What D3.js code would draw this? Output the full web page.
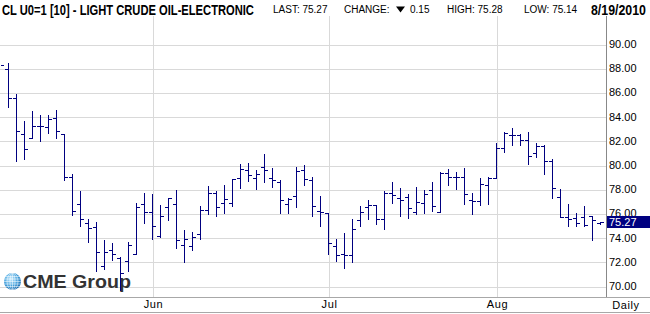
<!DOCTYPE html>
<html>
<head>
<meta charset="utf-8">
<script src="https://cdn.jsdelivr.net/npm/d3@7"></script>
<style>
  body { margin: 0; background: #fff; }
  svg { display: block; font-family: "Liberation Sans", Arial, sans-serif; }
</style>
</head>
<body>
<div id="chart"></div>
<script>
// trading days, 4 May - 19 Aug 2010 (Memorial Day and 5 Jul closed)
const dates = [
  "2010-05-04","2010-05-05","2010-05-06","2010-05-07",
  "2010-05-10","2010-05-11","2010-05-12","2010-05-13","2010-05-14",
  "2010-05-17","2010-05-18","2010-05-19","2010-05-20","2010-05-21",
  "2010-05-24","2010-05-25","2010-05-26","2010-05-27","2010-05-28",
  "2010-06-01","2010-06-02","2010-06-03","2010-06-04",
  "2010-06-07","2010-06-08","2010-06-09","2010-06-10","2010-06-11",
  "2010-06-14","2010-06-15","2010-06-16","2010-06-17","2010-06-18",
  "2010-06-21","2010-06-22","2010-06-23","2010-06-24","2010-06-25",
  "2010-06-28","2010-06-29","2010-06-30",
  "2010-07-01","2010-07-02",
  "2010-07-06","2010-07-07","2010-07-08","2010-07-09",
  "2010-07-12","2010-07-13","2010-07-14","2010-07-15","2010-07-16",
  "2010-07-19","2010-07-20","2010-07-21","2010-07-22","2010-07-23",
  "2010-07-26","2010-07-27","2010-07-28","2010-07-29","2010-07-30",
  "2010-08-02","2010-08-03","2010-08-04","2010-08-05","2010-08-06",
  "2010-08-09","2010-08-10","2010-08-11","2010-08-12","2010-08-13",
  "2010-08-16","2010-08-17","2010-08-18","2010-08-19"
];

const opens = [88.10, 87.91, 85.51, 82.54, 82.21, 83.25, 83.15, 83.85, 82.54, 78.98,
  76.78, 75.18, 74.85, 71.63, 72.98, 72.34, 72.07, 72.62, 76.80, 76.11,
  74.16, 76.50, 76.80, 73.39, 73.28, 74.27, 76.30, 77.69, 76.83, 76.86,
  78.90, 79.59, 78.93, 79.81, 78.90, 78.57, 76.80, 77.41, 79.59, 78.73,
  76.20, 76.00, 73.27, 72.65, 72.56, 75.44, 76.50, 76.69, 75.51, 77.66,
  77.25, 77.36, 76.09, 76.83, 77.91, 76.14, 79.35, 78.98, 78.98, 77.11,
  77.00, 78.33, 78.95, 81.38, 82.52, 82.52, 82.07, 80.96, 81.55, 80.29,
  77.38, 75.73, 75.65, 75.73, 75.79, 75.20];

const highs = [88.50, 88.45, 85.86, 83.61, 84.46, 84.13, 84.10, 84.55, 82.54, 79.23,
  77.85, 75.54, 75.29, 73.78, 73.53, 72.40, 73.64, 76.86, 77.69, 77.63,
  76.67, 77.30, 77.93, 74.63, 74.46, 76.61, 78.25, 77.85, 78.35, 78.88,
  80.07, 80.17, 79.59, 80.91, 79.73, 78.73, 77.25, 79.86, 80.00, 78.98,
  77.41, 76.00, 73.90, 74.35, 75.54, 76.61, 77.11, 76.69, 77.88, 78.60,
  78.07, 77.58, 78.18, 77.91, 78.57, 79.46, 79.67, 79.45, 79.73, 77.71,
  78.92, 79.03, 81.82, 82.72, 83.05, 82.54, 82.73, 81.78, 81.64, 80.47,
  77.99, 76.75, 76.00, 76.64, 75.79, 75.28];

const lows = [87.70, 84.82, 80.36, 80.47, 82.21, 82.01, 82.67, 82.26, 78.74, 75.89,
  74.98, 73.61, 71.26, 71.43, 72.15, 69.65, 71.27, 72.62, 75.18, 73.86,
  74.05, 75.43, 73.17, 71.96, 73.00, 73.91, 75.93, 75.81, 76.00, 76.64,
  78.12, 78.71, 77.99, 78.62, 78.21, 76.00, 76.00, 76.55, 78.35, 75.81,
  74.99, 72.62, 72.07, 71.45, 71.95, 74.99, 75.56, 75.10, 74.74, 76.83,
  75.81, 75.65, 75.92, 76.00, 76.22, 76.12, 78.38, 78.02, 76.78, 75.92,
  76.70, 76.80, 78.92, 81.10, 81.65, 81.62, 80.06, 80.69, 79.23, 77.24,
  75.73, 74.99, 74.99, 74.99, 73.83, 75.14];

const closes = [88.24, 85.51, 82.79, 81.30, 83.20, 83.22, 83.80, 82.78, 78.98, 76.20,
  75.54, 74.79, 72.78, 72.78, 72.62, 71.05, 73.36, 76.50, 76.14, 74.93,
  75.79, 77.25, 73.80, 73.86, 74.02, 76.31, 77.67, 76.57, 77.16, 78.84,
  79.65, 79.17, 79.23, 79.56, 78.73, 77.08, 77.16, 79.48, 78.87, 76.58,
  76.12, 73.53, 72.57, 72.60, 74.71, 76.10, 76.69, 75.51, 77.71, 77.52,
  77.08, 76.42, 76.92, 77.58, 76.58, 79.35, 79.00, 78.98, 77.58, 77.05,
  78.40, 78.96, 81.39, 82.67, 82.52, 82.07, 80.75, 81.57, 80.29, 78.07,
  75.73, 75.51, 75.23, 75.04, 75.42, 75.27];

const yTicks = [70, 72, 74, 76, 78, 80, 82, 84, 86, 88, 90];
const monthTicks = ["2010-06-01", "2010-07-01", "2010-08-02"];
const monthLabels = ["Jun", "Jul", "Aug"];

const title = "CL U0=1 [10] - LIGHT CRUDE OIL-ELECTRONIC";
const lastPrice = 75.27, change = 0.15, dayHigh = 75.28, dayLow = 75.14;
const asOf = "8/19/2010";

const W = 650, H = 314;
const plotTop = 16, plotBottom = 297, plotRight = 606;
const barColor = "#000080";
const gridColor = "#d9d9d9";
const fmt = d3.format('.2f');

const bars = dates.map((d, i) => ({
  date: d, o: opens[i], h: highs[i], l: lows[i], c: closes[i]
}));

const svg = d3.select('#chart')
  .append('svg')
  .attr('width', W)
  .attr('height', H);

const x = d3.scalePoint()
  .domain(dates)
  .range([0.5, 600.5]);

const y = d3.scaleLinear()
  .domain([70, 90])
  .range([286, 44]);

const py = v => Math.round(y(v)) + 0.5;

// squeeze a text horizontally so it spans `width` px from its x (narrow header font)
function fitText(sel, x0, y0, width) {
  const natural = sel.node().getComputedTextLength();
  sel.attr('x', 0).attr('y', 0)
    .attr('transform', `translate(${x0},${y0}) scale(${width / natural},1)`);
}

// horizontal grid
svg.append('g')
  .attr('transform', `translate(${plotRight},0.5)`)
  .call(d3.axisLeft(y).tickValues(yTicks).tickSize(plotRight).tickFormat(''))
  .call(g => g.select('.domain').remove())
  .call(g => g.selectAll('line').attr('stroke', gridColor).attr('shape-rendering', 'crispEdges'));

// month grid lines
svg.append('g')
  .selectAll('line')
  .data(monthTicks)
  .enter()
  .append('line')
  .attr('x1', d => x(d) + 0.5)
  .attr('x2', d => x(d) + 0.5)
  .attr('y1', plotTop)
  .attr('y2', plotBottom)
  .attr('stroke', gridColor)
  .attr('shape-rendering', 'crispEdges');

// CME logo (bottom left)
const defs = svg.append('defs');
const grad = defs.append('radialGradient').attr('id', 'globe').attr('cx', '40%').attr('cy', '35%').attr('r', '70%');
grad.append('stop').attr('offset', '0%').attr('stop-color', '#c8ecff');
grad.append('stop').attr('offset', '55%').attr('stop-color', '#4aa6e0');
grad.append('stop').attr('offset', '100%').attr('stop-color', '#0e62a8');
defs.append('clipPath').attr('id', 'globeClip')
  .append('circle').attr('cx', 12.5).attr('cy', 281.5).attr('r', 8.5);
defs.append('clipPath').attr('id', 'plotClip')
  .append('rect').attr('x', 1).attr('y', plotTop).attr('width', plotRight - 1).attr('height', plotBottom - plotTop);

const logo = svg.append('g');
logo.append('circle').attr('cx', 12.5).attr('cy', 281.5).attr('r', 8.5).attr('fill', 'url(#globe)');
const globeLines = logo.append('g').attr('clip-path', 'url(#globeClip)')
  .attr('stroke', '#fff').attr('stroke-opacity', 0.75).attr('stroke-width', 0.7).attr('fill', 'none');
[-5, -2.5, 0, 2.5, 5].forEach(dy => {
  globeLines.append('line').attr('x1', 3).attr('x2', 22).attr('y1', 281.5 + dy).attr('y2', 281.5 + dy);
});
[2.5, 5.5].forEach(rx => {
  globeLines.append('ellipse').attr('cx', 12.5).attr('cy', 281.5).attr('rx', rx).attr('ry', 8.5);
});
globeLines.append('line').attr('x1', 12.5).attr('x2', 12.5).attr('y1', 272).attr('y2', 291);
const logoText = logo.append('text')
  .attr('font-size', 18)
  .attr('font-weight', 'bold')
  .attr('fill', '#333')
  .text('CME Group');
fitText(logoText, 23, 287.5, 108);

// OHLC bars
const barG = svg.append('g')
  .attr('clip-path', 'url(#plotClip)')
  .attr('stroke', barColor)
  .attr('stroke-width', 1)
  .attr('shape-rendering', 'crispEdges');

const barSel = barG.selectAll('g')
  .data(bars)
  .enter()
  .append('g');

barSel.append('line')
  .attr('x1', d => x(d.date))
  .attr('x2', d => x(d.date))
  .attr('y1', d => Math.round(y(d.h)))
  .attr('y2', d => Math.round(y(d.l)) + 1);

barSel.append('line')
  .attr('x1', d => x(d.date) - 3.5)
  .attr('x2', d => x(d.date))
  .attr('y1', d => py(d.o))
  .attr('y2', d => py(d.o));

barSel.append('line')
  .attr('x1', d => x(d.date))
  .attr('x2', d => x(d.date) + 3.5)
  .attr('y1', d => py(d.c))
  .attr('y2', d => py(d.c));

// price axis on the right
svg.append('line')
  .attr('x1', plotRight + 0.5).attr('x2', plotRight + 0.5)
  .attr('y1', plotTop).attr('y2', plotBottom)
  .attr('stroke', '#888');

svg.append('g')
  .attr('transform', `translate(${plotRight},0)`)
  .call(d3.axisRight(y).tickValues(yTicks).tickFormat(fmt).tickSize(0).tickPadding(3))
  .call(g => g.select('.domain').remove())
  .call(g => g.selectAll('text').attr('font-size', 11).attr('font-family', '"Liberation Sans", Arial, sans-serif').attr('fill', '#000'));

// last price marker
svg.append('rect')
  .attr('x', plotRight + 1)
  .attr('y', Math.round(y(lastPrice)) - 6)
  .attr('width', W - plotRight - 1)
  .attr('height', 12)
  .attr('fill', barColor);
svg.append('text')
  .attr('x', plotRight + 3)
  .attr('y', Math.round(y(lastPrice)) + 4)
  .attr('font-size', 11)
  .attr('fill', '#fff')
  .text(fmt(lastPrice));

// time axis
svg.append('line').attr('x1', 0).attr('x2', W).attr('y1', plotBottom + 0.5).attr('y2', plotBottom + 0.5).attr('stroke', '#a8a8a8');
svg.append('line').attr('x1', 0).attr('x2', W).attr('y1', H - 1.5).attr('y2', H - 1.5).attr('stroke', '#a8a8a8');

svg.append('g')
  .attr('transform', `translate(0.5,${plotBottom})`)
  .call(d3.axisBottom(x).tickValues(monthTicks).tickFormat((d, i) => monthLabels[i]).tickSize(0).tickPadding(3))
  .call(g => g.select('.domain').remove())
  .call(g => g.selectAll('text').attr('font-size', 11).attr('font-family', '"Liberation Sans", Arial, sans-serif').attr('fill', '#000').attr('letter-spacing', 0.6));

svg.append('text')
  .attr('x', 626)
  .attr('y', 309)
  .attr('text-anchor', 'middle')
  .attr('font-size', 11)
  .attr('letter-spacing', 0.6)
  .text('Daily');

// header line
const head = svg.append('g').attr('fill', '#000');
const narrow = '"Liberation Sans Narrow", "Arial Narrow", "Liberation Sans", sans-serif';
const titleText = head.append('text')
  .attr('font-family', narrow)
  .attr('font-weight', 'bold')
  .attr('font-size', 15)
  .text(title);
fitText(titleText, 2, 15, 252);

head.append('text').attr('x', 273).attr('y', 13).attr('font-size', 10)
  .text('LAST: ' + fmt(lastPrice));
head.append('text').attr('x', 344).attr('y', 13).attr('font-size', 10)
  .text('CHANGE:');
head.append('path')
  .attr('d', 'M396,6.5 L405,6.5 L400.5,12.5 Z');
head.append('text').attr('x', 410).attr('y', 13).attr('font-size', 10)
  .text(fmt(change));
head.append('text').attr('x', 447).attr('y', 13).attr('font-size', 10)
  .text('HIGH: ' + fmt(dayHigh));
head.append('text').attr('x', 524).attr('y', 13).attr('font-size', 10)
  .text('LOW: ' + fmt(dayLow));
const dateText = head.append('text')
  .attr('font-family', narrow)
  .attr('font-weight', 'bold')
  .attr('font-size', 15)
  .text(asOf);
fitText(dateText, 591, 15, 55);
</script>
</body>
</html>
